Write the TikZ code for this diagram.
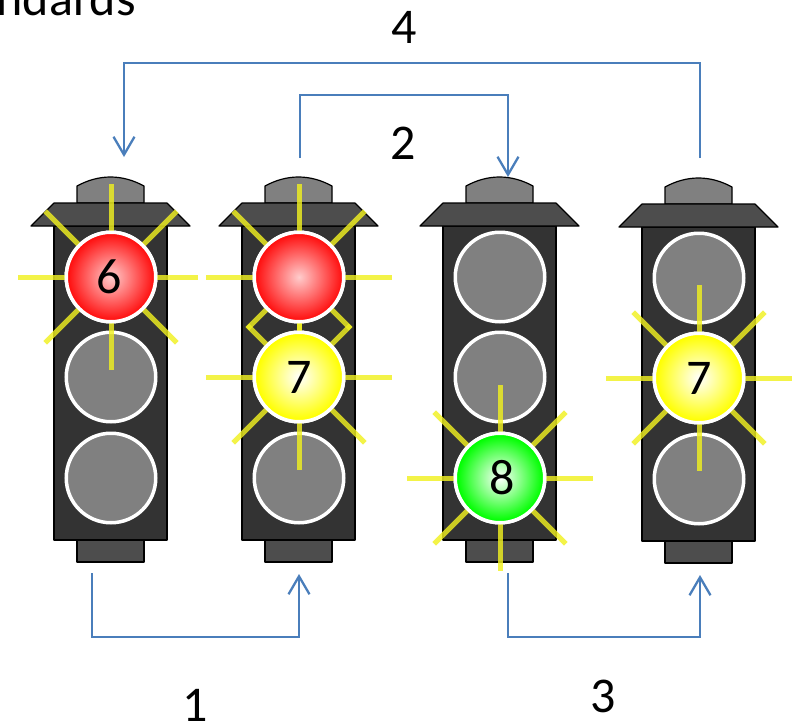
\documentclass[tikz,border=0pt]{standalone}
\usepackage{fontspec}
\setmainfont{Carlito}
\usetikzlibrary{arrows.meta}
\usetikzlibrary{positioning}
\pgfdeclareradialshading{redglow}{\pgfpoint{0bp}{0bp}}{color(0bp)=(white!80!red); color(26bp)=(red); color(50bp)=(red)}
\pgfdeclareradialshading{yellowglow}{\pgfpoint{0bp}{0bp}}{color(0bp)=(white); color(24bp)=(yellow); color(50bp)=(yellow)}
\pgfdeclareradialshading{greenglow}{\pgfpoint{0bp}{0bp}}{color(0bp)=(white); color(24bp)=(green); color(50bp)=(green)}
\definecolor{flowblue}{HTML}{4A7EBB}
\definecolor{housing}{HTML}{333333}
\definecolor{hood}{HTML}{4D4D4D}
\definecolor{dome}{HTML}{808080}
\definecolor{rayyellow}{HTML}{F0F020}
\tikzstyle{grey_lamp} = [
    circle,
    draw=white,
    fill=dome,
    line width=3.5pt,
    inner sep=0pt,
    outer sep=0pt,
    minimum size=89.5pt
]
\tikzstyle{lit_lamp} = [
    grey_lamp,
    font=\fontsize{50}{52}\selectfont
]
\tikzstyle{number} = [
    font=\fontsize{50}{52}\selectfont,
    inner sep=0pt
]
\tikzstyle{part} = [
    draw=black,
    line width=1.2pt,
    line join=round
]
\tikzstyle{ray} = [
    rayyellow,
    opacity=0.82,
    line width=5pt
]
\tikzstyle{flow} = [
    flowblue,
    line width=2.3pt,
    -{Straight Barb[length=18pt,width=21pt]}
]
\newcommand{\sunrays}[2]{
    \foreach \ang in {#2}
        \draw[ray] (#1) ++(\ang:46) -- ++(\ang:47);
}
\begin{document}
\begin{tikzpicture}[x=1pt, y=-1pt]
\useasboundingbox (0,0) rectangle (796,724);
% housings and dark lamps
\foreach \n/\cx/\dy in {a/111/0, b/299/0, c/500/0, d/699/1} {
    \begin{scope}[shift={(\cx,\dy)}]
        \draw[part, fill=housing] (-57,226) rectangle (56,540);
        \draw[part, fill=hood] (-34,540) rectangle (33,562);
        \draw[part, fill=dome] (-34,203) -- (-34,186) .. controls (-12,174) and (11,174) .. (33,186) -- (33,203) -- cycle;
        \draw[part, fill=hood] (-57,203) -- (56,203) -- (79,226) -- (-80,226) -- cycle;
        \node[grey_lamp] (\n1) at (0,277) {};
        \node[grey_lamp] (\n2) at (0,377) {};
        \node[grey_lamp] (\n3) at (0,478) {};
    \end{scope}
}
% rays
\sunrays{a1}{45,90,...,315}
\draw[ray] (a1) ++(0:46) -- ++(0:41);
\sunrays{b1}{0,90,180,225,270,315}
\sunrays{b2}{0,45,90,135,180,270}
\draw[ray] (b1) ++(45:46) -- ++(45:27);
\draw[ray] (b1) ++(135:46) -- ++(135:27);
\draw[ray] (b2) ++(225:46) -- ++(225:27);
\draw[ray] (b2) ++(315:46) -- ++(315:27);
\sunrays{c3}{0,45,...,315}
\sunrays{d2}{0,45,...,315}
% lit lamps
\node[lit_lamp, shading=redglow] (six) at (a1) {6\kern4pt};
\node[lit_lamp, shading=redglow] (red) at (b1) {};
\node[lit_lamp, shading=yellowglow] (seven) at (b2) {7};
\node[lit_lamp, shading=greenglow] (eight) at (c3) {\kern5pt 8};
\node[lit_lamp, shading=yellowglow] (sevenb) at (d2) {7};
% labels
\node[number, anchor=base east] (heading) at (136,15) {ndards};
\node[number] (one) at (195,705) {1};
\node[number] (two) at (403,143) {2};
\node[number] (three) at (603,696) {3};
\node[number] (four) at (404,27) {4};
% connectors
\coordinate (s1) at (92,573);
\coordinate (e1) at (299,574);
\coordinate (s2) at (300,158);
\coordinate (e2) at (508,177);
\coordinate (s3) at (508,573);
\coordinate (e3) at (700,575);
\coordinate (s4) at (700,158);
\coordinate (e4) at (124,157);
\draw[flow] (s1) -- ++(0,64) -| (e1);
\draw[flow] (s2) -- ++(0,-63) -| (e2);
\draw[flow] (s3) -- ++(0,64) -| (e3);
\draw[flow] (s4) -- ++(0,-95) -| (e4);
\end{tikzpicture}
\end{document}
